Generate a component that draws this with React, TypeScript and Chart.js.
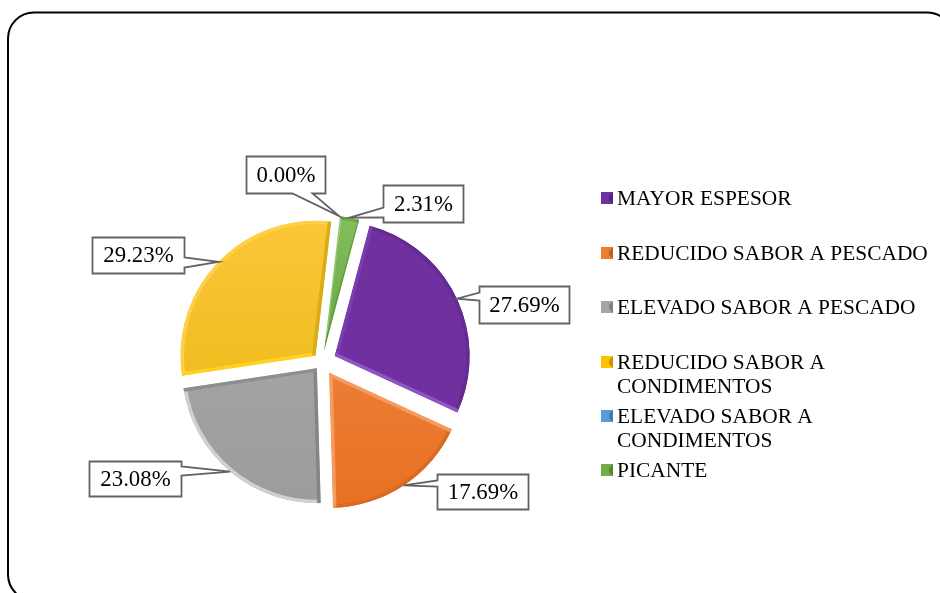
import React, { useEffect, useRef } from "react";
import { Chart, registerables } from "chart.js";

Chart.register(...registerables);

const categories = [
  "MAYOR ESPESOR",
  "REDUCIDO SABOR A PESCADO",
  "ELEVADO SABOR A PESCADO",
  "REDUCIDO SABOR A CONDIMENTOS",
  "ELEVADO SABOR A CONDIMENTOS",
  "PICANTE",
];
const values = [27.69, 17.69, 23.08, 29.23, 0.0, 2.31];
const sliceOffsets = [56, 52, 32, 36, 48, 48];
const legendLines = [
  ["MAYOR ESPESOR"],
  ["REDUCIDO SABOR A PESCADO"],
  ["ELEVADO SABOR A PESCADO"],
  ["REDUCIDO SABOR A", "CONDIMENTOS"],
  ["ELEVADO SABOR A", "CONDIMENTOS"],
  ["PICANTE"],
];
const baseColors = ["#7030A0", "#ED7D31", "#A5A5A5", "#FFC000", "#5B9BD5", "#70AD47"];
const gradientTop = ["#7030A0", "#F0894B", "#ABABAB", "#FDC63A", "#5B9BD5", "#86C05F"];
const gradientBottom = ["#7030A0", "#E8701F", "#9B9B9B", "#E6B60E", "#5B9BD5", "#4E8A2E"];
const rimBevel = ["#652B90", "#D96A22", "#D0D0D0", "#FFCF45", "#5B9BD5", "#70AD47"];
const startBevel = ["#7B3CAD", "#F59A62", "#858585", "#FFD21F", "#5B9BD5", "#93C774"];
const endBevel = ["#9055C4", "#F79A5E", "#8E8E8E", "#D8AC14", "#5B9BD5", "#5C9A38"];

// label box placement relative to the slice's outer midpoint: dx, dy, width, height
const labelBoxes = [
  [22, -13, 90, 37],
  [33, -11, 91, 35],
  [-141, -11, 92, 35],
  [-127, -25, 92, 36],
  [-93, -60, 79, 37],
  [33, -33, 80, 37],
];
// callout base: side of the box, and start / end along that side
const calloutBases: [string, number, number][] = [
  ["left", 6, 14],
  ["left", 6, 12],
  ["right", 5, 14],
  ["right", 20, 30],
  ["bottom", 46, 66],
  ["left", 22, 32],
];
const legendRowY = [198, 253, 307, 362, 416, 470];

const SERIF = '"Liberation Serif", "Times New Roman", serif';

function arcGeometry(arc: any) {
  // Chart.js moves an offset arc along its mid angle by offset/4
  const off = arc.options.offset / 4;
  const mid = (arc.startAngle + arc.endAngle) / 2;
  return {
    cx: arc.x + Math.cos(mid) * off,
    cy: arc.y + Math.sin(mid) * off,
    r: arc.outerRadius,
    mid,
  };
}

function sliceClip(ctx: CanvasRenderingContext2D, arc: any) {
  const { cx, cy, r } = arcGeometry(arc);
  ctx.moveTo(cx, cy);
  ctx.arc(cx, cy, r, arc.startAngle, arc.endAngle);
  ctx.closePath();
}

const bevelPlugin = {
  id: "bevel",
  beforeDatasetDraw(chart: Chart) {
    // Chart.js grows narrow offset slices; keep every slice on the same radius
    const ctx = chart.ctx;
    ctx.save();
    ctx.beginPath();
    chart.getDatasetMeta(0).data.forEach((arc: any, i: number) => {
      if (values[i] > 0) sliceClip(ctx, arc);
    });
    ctx.clip();
  },
  afterDatasetDraw(chart: Chart) {
    const ctx = chart.ctx;
    ctx.restore();
    const meta = chart.getDatasetMeta(0);
    meta.data.forEach((arc: any, i: number) => {
      if (values[i] <= 0) return;
      const { cx, cy, r } = arcGeometry(arc);
      ctx.save();
      ctx.beginPath();
      sliceClip(ctx, arc);
      ctx.clip();
      ctx.lineWidth = 7;
      ctx.strokeStyle = rimBevel[i];
      ctx.beginPath();
      ctx.arc(cx, cy, r, arc.startAngle, arc.endAngle);
      ctx.stroke();
      ctx.lineWidth = i === 5 ? 3 : 7;
      ctx.strokeStyle = startBevel[i];
      ctx.beginPath();
      ctx.moveTo(cx, cy);
      ctx.lineTo(cx + Math.cos(arc.startAngle) * r, cy + Math.sin(arc.startAngle) * r);
      ctx.stroke();
      ctx.strokeStyle = endBevel[i];
      ctx.beginPath();
      ctx.moveTo(cx, cy);
      ctx.lineTo(cx + Math.cos(arc.endAngle) * r, cy + Math.sin(arc.endAngle) * r);
      ctx.stroke();
      ctx.restore();
    });
  },
};

const calloutPlugin = {
  id: "callouts",
  afterDraw(chart: Chart) {
    const ctx = chart.ctx;
    const meta = chart.getDatasetMeta(0);
    ctx.save();
    ctx.font = `22.8px ${SERIF}`;
    ctx.textBaseline = "middle";
    ctx.textAlign = "center";
    meta.data.forEach((arc: any, i: number) => {
      const { cx, cy, r, mid } = arcGeometry(arc);
      const tipX = cx + Math.cos(mid) * r;
      const tipY = cy + Math.sin(mid) * r;
      const [dx, dy, w, h] = labelBoxes[i];
      const bx = Math.round(tipX + dx) + 0.5;
      const by = Math.round(tipY + dy) + 0.5;
      const [side, a, b] = calloutBases[i];
      ctx.beginPath();
      ctx.moveTo(bx, by);
      ctx.lineTo(bx + w, by);
      if (side === "right") {
        ctx.lineTo(bx + w, by + a);
        ctx.lineTo(tipX, tipY);
        ctx.lineTo(bx + w, by + b);
      }
      ctx.lineTo(bx + w, by + h);
      if (side === "bottom") {
        ctx.lineTo(bx + b, by + h);
        ctx.lineTo(tipX, tipY);
        ctx.lineTo(bx + a, by + h);
      }
      ctx.lineTo(bx, by + h);
      if (side === "left") {
        ctx.lineTo(bx, by + b);
        ctx.lineTo(tipX, tipY);
        ctx.lineTo(bx, by + a);
      }
      ctx.closePath();
      ctx.fillStyle = "#FFFFFF";
      ctx.fill();
      ctx.strokeStyle = "#636363";
      ctx.lineWidth = 1.8;
      ctx.lineJoin = "miter";
      ctx.stroke();
      ctx.fillStyle = "#000000";
      ctx.fillText(values[i].toFixed(2) + "%", bx + w / 2, by + h / 2 + 1);
    });
    ctx.restore();
  },
};

const legendPlugin = {
  id: "sideLegend",
  afterDraw(chart: Chart) {
    const ctx = chart.ctx;
    ctx.save();
    ctx.font = `21.4px ${SERIF}`;
    ctx.textBaseline = "middle";
    ctx.textAlign = "left";
    const sx = 601;
    const size = 12;
    legendLines.forEach((lines, i) => {
      const y = legendRowY[i];
      ctx.fillStyle = baseColors[i];
      ctx.fillRect(sx, y - size / 2, size, size);
      ctx.fillStyle = "rgba(0,0,0,0.22)";
      ctx.beginPath();
      ctx.moveTo(sx + size, y - size / 2);
      ctx.lineTo(sx + size, y + size / 2);
      ctx.lineTo(sx + size - 4, y + 2);
      ctx.lineTo(sx + size - 4, y - 2);
      ctx.closePath();
      ctx.fill();
      ctx.fillStyle = "#000000";
      lines.forEach((line, k) => ctx.fillText(line, 617, y + 1 + k * 24));
    });
    ctx.restore();
  },
};

const framePlugin = {
  id: "frame",
  beforeDraw(chart: Chart) {
    const ctx = chart.ctx;
    ctx.save();
    ctx.strokeStyle = "#000000";
    ctx.lineWidth = 2;
    ctx.beginPath();
    (ctx as any).roundRect(8, 12.5, 945, 588, 26);
    ctx.stroke();
    ctx.restore();
  },
};

export default function App() {
  const ref = useRef<HTMLCanvasElement | null>(null);
  useEffect(() => {
    if (!ref.current) return;
    const chart = new Chart(ref.current, {
      type: "pie",
      data: {
        labels: categories,
        datasets: [
          {
            data: values,
            backgroundColor: (c: any) => {
              const i = c.dataIndex;
              const g = c.chart.ctx.createLinearGradient(0, 215, 0, 510);
              g.addColorStop(0, gradientTop[i]);
              g.addColorStop(1, gradientBottom[i]);
              return g;
            },
            borderWidth: 0,
            offset: sliceOffsets,
            radius: 135,
          } as any,
        ],
      },
      options: {
        animation: false,
        responsive: false,
        rotation: 15,
        layout: { padding: { left: 0, right: 296, top: 131, bottom: 0 } },
        plugins: { legend: { display: false }, tooltip: { enabled: false } },
      },
      plugins: [framePlugin, bevelPlugin, calloutPlugin, legendPlugin],
    });
    return () => chart.destroy();
  }, []);
  return (
    <div style={{ position: "fixed", left: 0, top: 0, width: 940, height: 593, background: "#fff", overflow: "hidden" }}>
      <canvas ref={ref} width={940} height={593} style={{ display: "block" }} />
    </div>
  );
}
